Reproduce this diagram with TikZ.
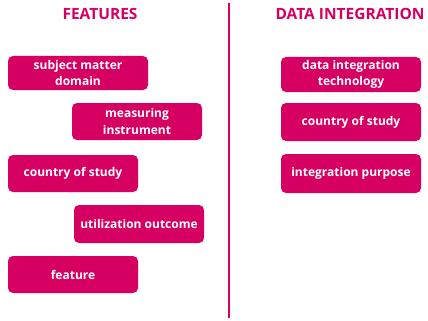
\documentclass[tikz,border=0pt]{standalone}
\usepackage{fontspec}
\setmainfont{Open Sans}
\usepackage{xcolor}
\definecolor{rose}{HTML}{D60062}

\begin{document}
\begin{tikzpicture}[x=1pt, y=-1pt,
    box/.style={rectangle, fill=rose, rounded corners=5pt, text=white,
      font=\fontsize{12}{16.5}\selectfont\bfseries, align=center,
      inner sep=0pt},
    head/.style={text=rose, font=\fontsize{15.5}{18}\selectfont\bfseries}]
    \useasboundingbox (0,0) rectangle (428,321);
    % Headings
    \node (feat) [head] at (100,14) {FEATURES};
    \node (integ) [head] at (350,14) {DATA INTEGRATION};

    % Divider
    \coordinate (divtop) at (229,3);
    \coordinate (divbot) at (229,318);
    \draw [rose, line width=1.5pt] (divtop) -- (divbot);

    % Feature boxes
    \node (item1) [box, minimum width=140, minimum height=34] at (78,73)
    {subject matter\\ domain};
    \node (item2) [box, minimum width=130, minimum height=37] at (137,121.5)
    {measuring\\ instrument};
    \node (item3) [box, minimum width=130, minimum height=37] at (73,173.5)
    {country of study};
    \node (item4) [box, minimum width=130, minimum height=38] at (139,224)
    {utilization outcome};
    \node (item5) [box, minimum width=130, minimum height=37] at (73,274.5)
    {feature};

    % Data integration boxes
    \node (item6) [box, minimum width=140, minimum height=35] at (351,74.5)
    {data integration\\ technology};
    \node (item7) [box, minimum width=140, minimum height=38] at (351,122)
    {country of study};
    \node (item8) [box, minimum width=140, minimum height=39] at (351,173.5)
    {integration purpose};
  \end{tikzpicture}
\end{document}
